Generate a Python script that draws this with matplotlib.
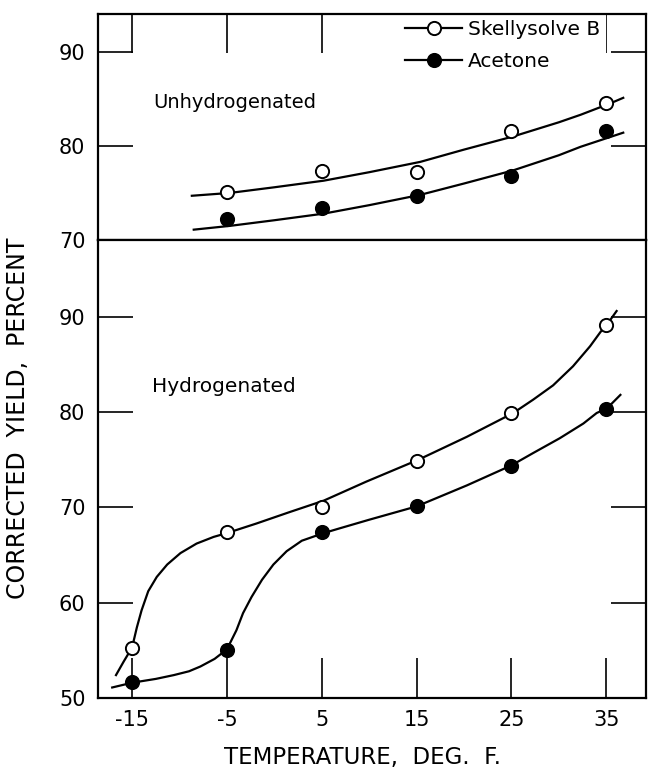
import matplotlib
matplotlib.use("Agg")
import matplotlib.pyplot as plt

# ---- measured points ----
temps = [-15, -5, 5, 15, 25, 35]

# unhydrogenated (no reading at -15)
unh_temps = [-5, 5, 15, 25, 35]
unh_skelly = [75.1, 77.3, 77.2, 81.6, 84.6]
unh_acetone = [72.2, 73.4, 74.7, 76.8, 81.6]

# hydrogenated
hyd_skelly = [55.2, 67.4, 70.0, 74.9, 79.9, 89.1]
hyd_acetone = [51.7, 55.0, 67.4, 70.1, 74.3, 80.3]

# ---- hand-drawn curves ----
unh_skelly_cx = [-8.7, -4.7, 0, 5.2, 10, 15.4, 20, 25.2, 30, 32.3, 35.4, 36.8]
unh_skelly_cy = [74.7, 75.0, 75.6, 76.3, 77.2, 78.3, 79.6, 81.0, 82.5, 83.3, 84.5, 85.1]
unh_acetone_cx = [-8.5, -4.7, 0, 5.2, 10, 15.4, 20, 25.2, 30, 32.3, 36.8]
unh_acetone_cy = [71.1, 71.5, 72.1, 72.8, 73.7, 74.8, 76.0, 77.4, 79.0, 79.9, 81.4]

hyd_skelly_cx = [-16.7, -15.9, -15.0, -14.5, -14.0, -13.3, -12.4, -11.3, -9.9,
                 -8.2, -6.4, -5.0, -1.9, 1.6, 5.2, 9.7, 15.2, 20.3, 25.2,
                 27.3, 29.4, 31.5, 33.3, 34.4, 35.1, 36.1]
hyd_skelly_cy = [52.4, 53.8, 55.3, 57.4, 59.2, 61.2, 62.7, 64.0, 65.2,
                 66.2, 66.9, 67.3, 68.3, 69.5, 70.7, 72.7, 75.0, 77.4, 79.9,
                 81.3, 82.8, 84.8, 86.9, 88.4, 89.2, 90.6]
hyd_acetone_cx = [-17.1, -15.0, -12.5, -10.6, -9.0, -7.8, -6.3, -5.0, -4.0,
                  -3.3, -2.4, -1.3, -0.1, 1.3, 2.9, 5.2, 6.9, 10.0, 15.0,
                  20.3, 25.0, 27.3, 30.1, 32.6, 34.0, 35.1, 36.5]
hyd_acetone_cy = [51.1, 51.6, 52.0, 52.4, 52.8, 53.3, 54.1, 55.1, 57.1,
                  58.9, 60.6, 62.4, 64.0, 65.4, 66.5, 67.3, 67.8, 68.7, 70.1,
                  72.3, 74.4, 75.7, 77.25, 78.8, 79.9, 80.4, 81.8]

ytick_top = [70, 80, 90]
ytick_bot = [50, 60, 70, 80, 90]

plt.rcParams["font.family"] = "DejaVu Sans"

fig = plt.figure(figsize=(6.48, 7.75), dpi=100)
left, width = 0.1512, 0.8457
ax_top = fig.add_axes([left, 0.6903, width, 0.2916])
ax_bot = fig.add_axes([left, 0.0994, width, 0.5909])

for ax in (ax_top, ax_bot):
    ax.set_xlim(-18.6, 39.2)
    for s in ax.spines.values():
        s.set_linewidth(1.6)
        s.set_zorder(6)
    ax.tick_params(axis="y", direction="in", left=True, right=True,
                   length=25, width=1.2, labelsize=15, pad=9)

ax_top.set_ylim(70, 94.0)
ax_bot.set_ylim(50, 98.05)

ax_top.set_yticks(ytick_top)
ax_bot.set_yticks(ytick_bot)
ax_top.set_xticks(temps)
ax_bot.set_xticks(temps)
ax_bot.set_xticklabels(["-15", "-5", "5", "15", "25", "35"])

ax_top.tick_params(axis="x", direction="in", top=True, bottom=False,
                   labelbottom=False, length=28, width=1.2)
ax_bot.tick_params(axis="x", direction="in", top=False, bottom=True,
                   length=29, width=1.2, labelsize=15, pad=9)

mk = dict(markersize=9.5, markeredgewidth=1.4, markeredgecolor="black")
lw = 1.6

# top panel
ax_top.plot(unh_skelly_cx, unh_skelly_cy, color="black", lw=lw)
ax_top.plot(unh_acetone_cx, unh_acetone_cy, color="black", lw=lw)
ax_top.plot(unh_temps, unh_skelly, "o", markerfacecolor="white", **mk, zorder=3)
ax_top.plot(unh_temps, unh_acetone, "o", markerfacecolor="black", **mk, zorder=3)

h1, = ax_top.plot([], [], "-o", color="black", lw=lw, markerfacecolor="white", **mk)
h2, = ax_top.plot([], [], "-o", color="black", lw=lw, markerfacecolor="black", **mk)
leg = ax_top.legend([h1, h2], ["Skellysolve B", "Acetone"], loc="upper left",
                    bbox_to_anchor=(0.55, 1.0), borderaxespad=0, borderpad=0.3,
                    fontsize=14.5, handlelength=2.8, handletextpad=0.3,
                    labelspacing=0.65, frameon=True, fancybox=False,
                    edgecolor="none", facecolor="white", framealpha=1)
leg.set_zorder(5)

ax_top.text(-12.8, 84.6, "Unhydrogenated", fontsize=14, va="center", ha="left")

# bottom panel
ax_bot.plot(hyd_skelly_cx, hyd_skelly_cy, color="black", lw=lw)
ax_bot.plot(hyd_acetone_cx, hyd_acetone_cy, color="black", lw=lw)
ax_bot.plot(temps, hyd_skelly, "o", markerfacecolor="white", **mk, zorder=3)
ax_bot.plot(temps, hyd_acetone, "o", markerfacecolor="black", **mk, zorder=3)

ax_bot.text(-12.9, 82.7, "Hydrogenated", fontsize=14.5, va="center", ha="left")

fig.text(0.559, 0.022, "TEMPERATURE,  DEG.  F.", fontsize=16.5,
         ha="center", va="center")
fig.text(0.028, 0.46, "CORRECTED  YIELD,  PERCENT", rotation=90,
         fontsize=17, ha="center", va="center")

fig.savefig("out.png", dpi=100)
